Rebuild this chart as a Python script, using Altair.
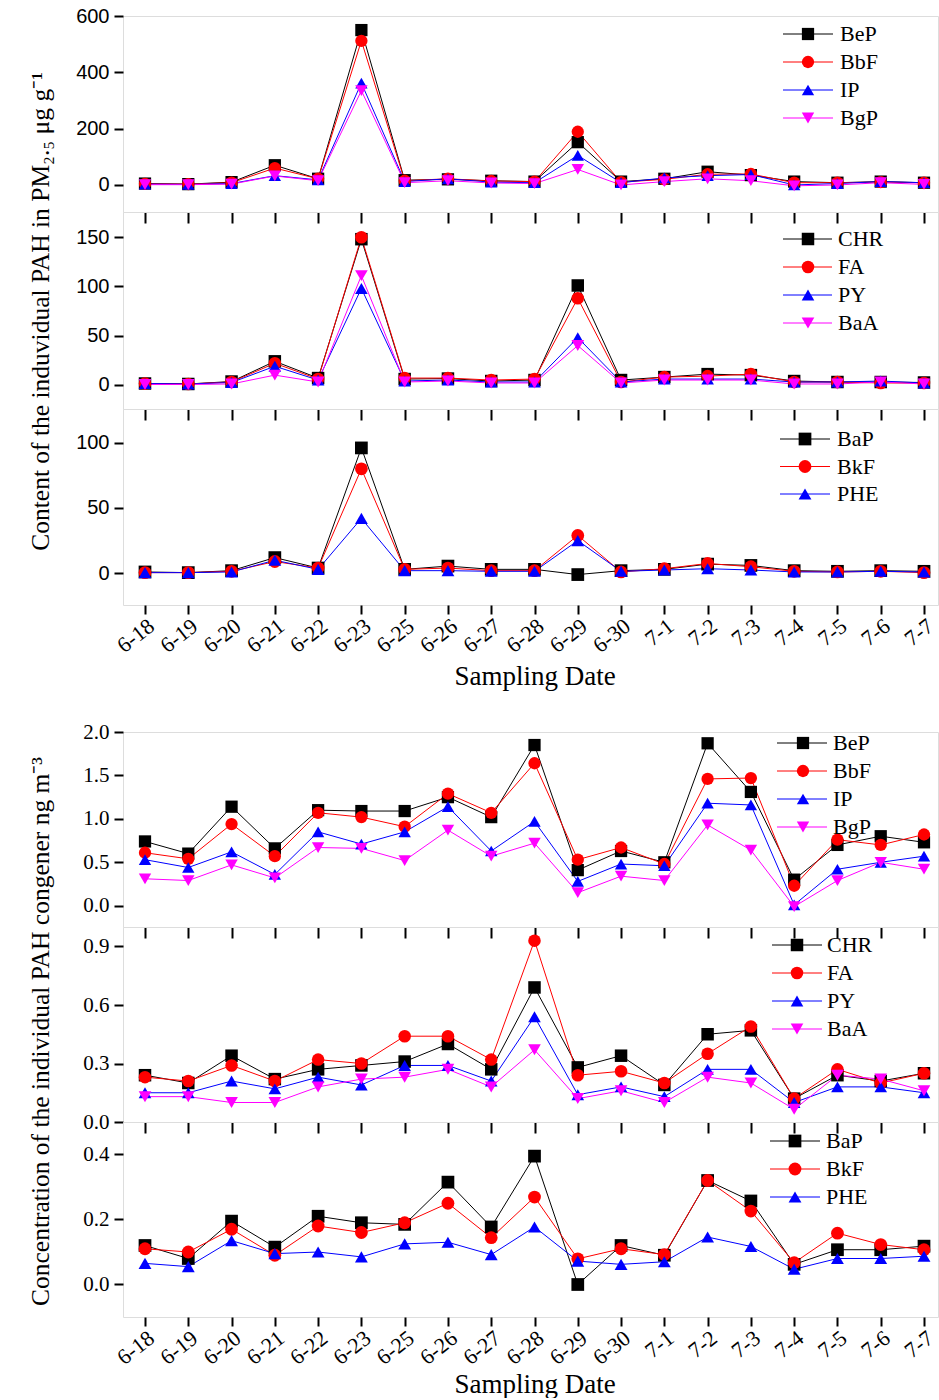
import altair as alt
import pandas as pd

dates = ["6-18", "6-19", "6-20", "6-21", "6-22", "6-23", "6-25", "6-26", "6-27", "6-28",
         "6-29", "6-30", "7-1", "7-2", "7-3", "7-4", "7-5", "7-6", "7-7"]

# ---- Figure 1: content in PM2.5 (ug/g) ----
f1_BeP = [5, 3, 10, 70, 22, 550, 17, 20, 15, 12, 152, 12, 22, 47, 35, 12, 8, 12, 8]
f1_BbF = [4, 3, 8, 60, 22, 512, 15, 22, 14, 12, 189, 10, 20, 38, 39, 8, 8, 10, 8]
f1_IP = [3, 2, 5, 33, 18, 362, 12, 22, 10, 8, 105, 8, 25, 33, 37, 0, 5, 12, 8]
f1_BgP = [1, 1, 3, 32, 15, 335, 8, 15, 7, 5, 55, 0, 12, 22, 15, -3, 0, 8, 2]

f1_CHR = [1.5, 1, 3.5, 24, 7, 148, 6, 6.5, 4, 5, 101, 5, 8, 11, 10, 4, 3, 3, 2.5]
f1_FA = [1.5, 1, 3, 22, 6, 150, 7, 7, 5, 6, 88, 3, 8, 9, 11, 3, 3, 2, 2]
f1_PY = [1.5, 1, 2.5, 19, 5, 98, 4, 5, 3, 3, 48, 3, 6, 6, 6, 3, 3, 4, 2]
f1_BaA = [0.5, 0.5, 1, 10, 3, 111, 3, 4, 2, 2, 40, 2, 5, 5, 5, 1, 1, 3, 1]

f1_BaP = [1, 0.5, 2, 12, 4, 96, 3, 5.5, 3, 3, -1, 2, 3, 7, 6, 2, 1.5, 2, 1.5]
f1_BkF = [0.5, 0.5, 1.5, 9, 4, 80, 3, 4, 2, 2, 29, 1, 3.5, 7.5, 5, 1.5, 1, 1.5, 0.5]
f1_PHE = [0.5, 0.5, 1, 10, 3, 42, 2, 2, 1.5, 1.5, 25, 1.5, 2.5, 3.5, 2.5, 1, 1, 1.5, 1]

# ---- Figure 2: concentration (ng/m3) ----
f2_BeP = [0.74, 0.60, 1.14, 0.66, 1.10, 1.09, 1.09, 1.25, 1.02, 1.85, 0.41, 0.63, 0.50, 1.87, 1.31, 0.30, 0.70, 0.80, 0.73]
f2_BbF = [0.61, 0.54, 0.94, 0.57, 1.07, 1.02, 0.91, 1.29, 1.07, 1.64, 0.53, 0.67, 0.48, 1.46, 1.47, 0.23, 0.76, 0.70, 0.82]
f2_IP = [0.53, 0.44, 0.62, 0.36, 0.85, 0.71, 0.85, 1.14, 0.63, 0.97, 0.28, 0.48, 0.46, 1.18, 1.16, 0.01, 0.42, 0.50, 0.57]
f2_BgP = [0.31, 0.29, 0.47, 0.32, 0.67, 0.66, 0.52, 0.87, 0.57, 0.72, 0.15, 0.34, 0.29, 0.93, 0.64, -0.01, 0.29, 0.50, 0.42]

f2_CHR = [0.24, 0.20, 0.34, 0.22, 0.27, 0.29, 0.31, 0.40, 0.27, 0.69, 0.28, 0.34, 0.19, 0.45, 0.47, 0.12, 0.24, 0.21, 0.25]
f2_FA = [0.23, 0.21, 0.29, 0.21, 0.32, 0.30, 0.44, 0.44, 0.32, 0.93, 0.24, 0.26, 0.20, 0.35, 0.49, 0.12, 0.27, 0.20, 0.25]
f2_PY = [0.15, 0.15, 0.21, 0.17, 0.23, 0.19, 0.29, 0.29, 0.21, 0.54, 0.14, 0.18, 0.13, 0.27, 0.27, 0.10, 0.18, 0.18, 0.15]
f2_BaA = [0.13, 0.13, 0.10, 0.10, 0.18, 0.22, 0.23, 0.27, 0.18, 0.37, 0.12, 0.16, 0.10, 0.23, 0.20, 0.065, 0.24, 0.22, 0.16]

f2_BaP = [0.12, 0.08, 0.195, 0.115, 0.21, 0.19, 0.185, 0.315, 0.177, 0.395, 0.0, 0.12, 0.09, 0.32, 0.257, 0.062, 0.107, 0.107, 0.118]
f2_BkF = [0.11, 0.10, 0.17, 0.09, 0.18, 0.16, 0.19, 0.25, 0.144, 0.269, 0.079, 0.11, 0.092, 0.32, 0.226, 0.067, 0.158, 0.123, 0.107]
f2_PHE = [0.065, 0.055, 0.135, 0.095, 0.10, 0.085, 0.125, 0.13, 0.092, 0.177, 0.072, 0.062, 0.07, 0.146, 0.117, 0.047, 0.08, 0.08, 0.087]

COLORS = ["#000000", "#ff0000", "#0000ff", "#ff00ff"]
SHAPES = ["square", "circle", "triangle-up", "triangle-down"]
SIZES = [150, 165, 280, 280]
SERIF = "Liberation Serif"
SANS = "Liberation Sans"
W = 815
XRANGE = [22, 801]


def panel(series, height, domain, ticks, fmt, ylabel_font, ylabel_size, leg, x_labels=False,
          y_title=None, y_title_y=0, x_title_y=70):
    names = [n for n, _ in series]
    rows = []
    for n, vals in series:
        for d, v in zip(dates, vals):
            rows.append({"date": d, "value": v, "series": n})
    df = pd.DataFrame(rows)
    cscale = alt.Scale(domain=names, range=COLORS[:len(names)])
    sscale = alt.Scale(domain=names, range=SHAPES[:len(names)])
    zscale = alt.Scale(domain=names, range=SIZES[:len(names)])

    if x_labels:
        xaxis = alt.Axis(title="Sampling Date", labelAngle=-38, labelAlign="right", labelBaseline="top",
                         labelFont=SERIF, labelFontSize=22, labelColor="black", labelPadding=1,
                         tickSize=9, tickWidth=2, tickColor="black", domain=False, grid=False,
                         titleFont=SERIF, titleFontSize=27, titleFontWeight="normal", titleColor="black",
                         titleY=x_title_y, titleBaseline="middle")
    else:
        xaxis = alt.Axis(title=None, labels=False, tickSize=11, tickWidth=2, tickColor="black",
                         domain=False, grid=False)
    x = alt.X("date:N", sort=dates, scale=alt.Scale(type="point", range=XRANGE, padding=0), axis=xaxis)

    yaxis_kw = dict(values=ticks, format=fmt, labelFont=ylabel_font, labelFontSize=ylabel_size,
                    labelColor="black", labelPadding=5, tickSize=9, tickWidth=2, tickColor="black",
                    domain=False, grid=False)
    if y_title:
        yaxis_kw.update(title=y_title, titleFont=SERIF, titleFontSize=25.5, titleFontWeight="normal",
                        titleColor="black", titleX=-83, titleY=y_title_y, titleAngle=270,
                        titleBaseline="middle", titleAlign="center")
    else:
        yaxis_kw.update(title=None)
    y = alt.Y("value:Q", scale=alt.Scale(domain=domain, nice=False, zero=False), axis=alt.Axis(**yaxis_kw))

    base = alt.Chart(df)
    lines = base.mark_line(strokeWidth=1).encode(
        x=x, y=y, color=alt.Color("series:N", scale=cscale, legend=None))
    pts = base.mark_point(filled=True, opacity=1).encode(
        x=x, y=y, color=alt.Color("series:N", scale=cscale, legend=None),
        shape=alt.Shape("series:N", scale=sscale, legend=None),
        size=alt.Size("series:N", scale=zscale, legend=None))

    ly0, lstep, lx0, lx1, lxm, lxt = leg
    ldf = pd.DataFrame({"series": names, "rank": list(range(len(names)))})
    lb = alt.Chart(ldf).transform_calculate(ly=f"{ly0} + datum.rank * {lstep}")
    ly = alt.Y("ly:Q", scale=None, axis=None)
    lrule = lb.mark_rule(strokeWidth=1).encode(
        x=alt.value(lx0), x2=alt.value(lx1), y=ly,
        color=alt.Color("series:N", scale=cscale, legend=None))
    lpts = lb.mark_point(filled=True, opacity=1).encode(
        x=alt.value(lxm), y=ly, color=alt.Color("series:N", scale=cscale, legend=None),
        shape=alt.Shape("series:N", scale=sscale, legend=None),
        size=alt.Size("series:N", scale=zscale, legend=None))
    ltxt = lb.mark_text(align="left", baseline="middle", font=SERIF, fontSize=22, color="black").encode(
        x=alt.value(lxt), y=ly, text="series:N")

    return alt.layer(alt.layer(lines, pts), alt.layer(lrule, lpts, ltxt)).resolve_scale(
        y="independent").properties(width=W, height=height)


p1 = panel([("BeP", f1_BeP), ("BbF", f1_BbF), ("IP", f1_IP), ("BgP", f1_BgP)], 196,
           [-96, 600], [0, 200, 400, 600], "d", SANS, 20, (18, 28, 660, 710, 685, 717))
p2 = panel([("CHR", f1_CHR), ("FA", f1_FA), ("PY", f1_PY), ("BaA", f1_BaA)], 197,
           [-24.4, 175.6], [0, 50, 100, 150], "d", SANS, 20, (27, 28, 660, 709, 685, 715),
           y_title="Content of the induvidual PAH in PM₂.₅ μg g⁻¹", y_title_y=99)
p3 = panel([("BaP", f1_BaP), ("BkF", f1_BkF), ("PHE", f1_PHE)], 196,
           [-24.3, 125.8], [0, 50, 100], "d", SANS, 20, (30, 27.5, 657, 707, 682, 714),
           x_labels=True, x_title_y=71)

spacer = alt.Chart(pd.DataFrame({"v": [0]})).mark_point(opacity=0).encode(
    x=alt.value(0), y=alt.value(0)).properties(width=W, height=127,
                                                view=alt.ViewBackground(strokeOpacity=0))

q1 = panel([("BeP", f2_BeP), ("BbF", f2_BbF), ("IP", f2_IP), ("BgP", f2_BgP)], 195,
           [-0.245, 2.0], [0, 0.5, 1.0, 1.5, 2.0], ".1f", SERIF, 21, (11, 28, 654, 704, 680, 710))
q2 = panel([("CHR", f2_CHR), ("FA", f2_FA), ("PY", f2_PY), ("BaA", f2_BaA)], 195,
           [0, 1.0], [0, 0.3, 0.6, 0.9], ".1f", SERIF, 21, (18, 28, 649, 699, 674, 704),
           y_title="Concentration of the individual PAH congener ng m⁻³", y_title_y=104)
q3 = panel([("BaP", f2_BaP), ("BkF", f2_BkF), ("PHE", f2_PHE)], 195,
           [-0.1, 0.5], [0, 0.2, 0.4], ".1f", SERIF, 21, (19, 28, 647, 697, 672, 703),
           x_labels=True, x_title_y=67)

chart = alt.vconcat(p1, p2, p3, spacer, q1, q2, q3, spacing=0, bounds="flush").properties(
    padding={"left": 27, "top": 5, "right": 0, "bottom": 0}
).configure_view(stroke="black", strokeWidth=2).configure(background="white")

chart.save("out.html", embed_options={"renderer": "svg", "actions": False})
